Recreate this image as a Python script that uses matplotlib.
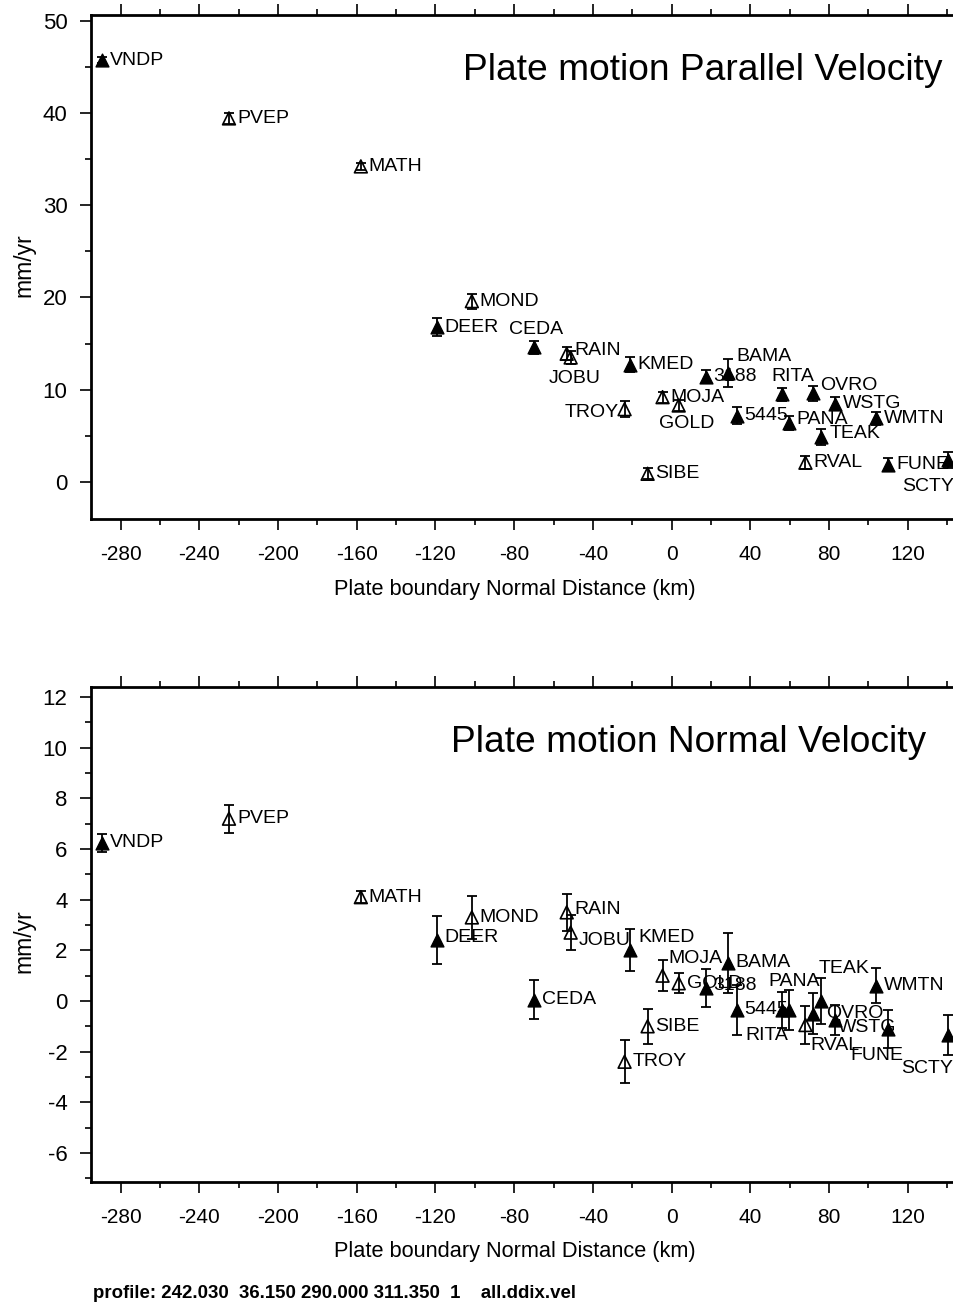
import matplotlib
matplotlib.use("Agg")
import matplotlib.pyplot as plt
from matplotlib.ticker import MultipleLocator

plt.rcParams['font.family'] = ['Liberation Sans', 'DejaVu Sans']
plt.rcParams['axes.unicode_minus'] = False

# ---------------- data ----------------
stations = ["VNDP", "PVEP", "MATH", "DEER", "MOND", "CEDA", "RAIN", "JOBU", "KMED",
            "TROY", "SIBE", "MOJA", "GOLD", "3188", "BAMA", "5445", "RITA", "PANA",
            "RVAL", "OVRO", "TEAK", "WSTG", "WMTN", "FUNE", "SCTY"]
distance = [-289.3, -224.9, -157.9, -119.3, -101.5, -70.0, -53.3, -51.3, -21.3,
            -23.9, -12.2, -4.6, 3.6, 17.3, 28.4, 33.0, 56.3, 59.4,
            68.0, 71.6, 76.1, 83.2, 103.6, 110.0, 140.6]
filled = [True, False, False, True, False, True, False, False, True,
          False, False, False, False, True, True, True, True, True,
          False, True, True, True, True, True, True]
v_par = [45.7, 39.4, 34.2, 16.8, 19.6, 14.6, 13.9, 13.5, 12.7,
         7.9, 0.9, 9.2, 8.3, 11.4, 11.8, 7.2, 9.5, 6.4,
         2.1, 9.6, 4.9, 8.5, 6.9, 1.9, 2.4]
v_par_err = [0.3, 0.6, 0.4, 1.0, 0.8, 0.7, 0.7, 0.7, 0.8,
             0.9, 0.6, 0.6, 0.6, 0.7, 1.5, 0.9, 0.7, 0.8,
             0.7, 0.8, 0.9, 0.7, 0.7, 0.7, 0.9]
v_norm = [6.24, 7.2, 4.1, 2.4, 3.3, 0.04, 3.5, 2.7, 2.0,
          -2.4, -1.0, 1.0, 0.7, 0.5, 1.5, -0.35, -0.35, -0.35,
          -0.95, -0.5, 0.0, -0.75, 0.6, -1.1, -1.35]
v_norm_err = [0.35, 0.55, 0.25, 0.95, 0.85, 0.77, 0.73, 0.7, 0.83,
              0.85, 0.7, 0.6, 0.4, 0.75, 1.2, 1.0, 0.7, 0.8,
              0.75, 0.8, 0.9, 0.6, 0.7, 0.75, 0.8]

x_ticks = [-280, -240, -200, -160, -120, -80, -40, 0, 40, 80, 120]
top_yticks = [0, 10, 20, 30, 40, 50]
bot_yticks = [-6, -4, -2, 0, 2, 4, 6, 8, 10, 12]

# label placement (pixel offsets dx, dy-down, alignment); default: right of marker
top_label_layout = {
    "CEDA": (2, -18, 'center'), "JOBU": (4, 21, 'center'), "BAMA": (9, -17, 'left'),
    "RITA": (10, -18, 'center'), "OVRO": (8, -8, 'left'), "GOLD": (8, 18, 'center'),
    "TROY": (-6, 3, 'right'), "SCTY": (-20, 27, 'center'), "RAIN": (8, -3, 'left'),
    "TEAK": (8, -3, 'left'), "PANA": (8, -3, 'left'),
}
bot_label_layout = {
    "KMED": (9, -13, 'left'), "MOJA": (6, -17, 'left'), "RITA": (-16, 26, 'center'),
    "PANA": (6, -28, 'center'), "TEAK": (-3, -32, 'left'), "OVRO": (14, 0, 'left'),
    "WSTG": (3, 8, 'left'), "RVAL": (5, 20, 'left'), "FUNE": (-11, 27, 'center'),
    "SCTY": (-21, 33, 'center'), "JOBU": (8, 8, 'left'), "DEER": (8, -3, 'left'),
    "RAIN": (8, -3, 'left'), "3188": (8, -3, 'left'),
}

W, H = 954, 1304
fig = plt.figure(figsize=(W / 100, H / 100), dpi=100)


def px_axes(left, top, right, bottom):
    return fig.add_axes([left / W, 1 - bottom / H, (right - left) / W, (bottom - top) / H])


def draw_panel(ax, vals, errs, layout, ylim, yticks, yminor):
    ax.errorbar(distance, vals, yerr=errs, fmt='none', ecolor='black',
                elinewidth=1.3, capsize=3.5, capthick=1.3, zorder=3)
    xf = [d for d, f in zip(distance, filled) if f]
    yf = [v for v, f in zip(vals, filled) if f]
    xo = [d for d, f in zip(distance, filled) if not f]
    yo = [v for v, f in zip(vals, filled) if not f]
    ax.scatter(xf, yf, marker='^', s=85, facecolors='black', edgecolors='black',
               linewidths=1.0, zorder=4)
    ax.scatter(xo, yo, marker='^', s=85, facecolors='none', edgecolors='black',
               linewidths=1.2, zorder=4)
    for name, d, v in zip(stations, distance, vals):
        dx, dy, ha = layout.get(name, (8, 0, 'left'))
        ax.annotate(name, (d, v), xytext=(dx * 0.72, -dy * 0.72),
                    textcoords='offset points', ha=ha, va='center',
                    fontsize=14, zorder=5)
    ax.set_xlim(-295, 145)
    ax.set_ylim(*ylim)
    ax.set_xticks(x_ticks)
    ax.set_xticklabels([str(t) for t in x_ticks])
    ax.xaxis.set_minor_locator(MultipleLocator(20))
    ax.set_yticks(yticks)
    ax.set_yticklabels([str(t) for t in yticks])
    ax.yaxis.set_minor_locator(MultipleLocator(yminor))
    ax.tick_params(which='both', direction='out', top=True, right=False,
                   labelsize=15, width=1.2)
    ax.tick_params(axis='y', labelsize=16)
    ax.tick_params(which='major', length=8, pad=9)
    ax.tick_params(which='minor', length=4)
    ax.tick_params(axis='x', pad=11)
    for s in ['left', 'top', 'bottom']:
        ax.spines[s].set_linewidth(2.0)
    ax.spines['right'].set_visible(False)


ax1 = px_axes(91, 15, 957, 519)
draw_panel(ax1, v_par, v_par_err, top_label_layout, (-4, 50.6), top_yticks, 5)
ax2 = px_axes(91, 687, 957, 1182)
draw_panel(ax2, v_norm, v_norm_err, bot_label_layout, (-7.15, 12.4), bot_yticks, 1)

fig.text(943 / W, 1 - 70 / H, "Plate motion Parallel Velocity", ha='right', va='center', fontsize=26.7)
fig.text(926 / W, 1 - 743 / H, "Plate motion Normal Velocity", ha='right', va='center', fontsize=26.7)

fig.text(515 / W, 1 - 590 / H, "Plate boundary Normal Distance (km)", ha='center', va='center', fontsize=15.7)
fig.text(515 / W, 1 - 1252 / H, "Plate boundary Normal Distance (km)", ha='center', va='center', fontsize=15.7)

fig.text(24 / W, 1 - 265 / H, "mm/yr", rotation=90, ha='center', va='center', fontsize=16.5)
fig.text(24 / W, 1 - 941 / H, "mm/yr", rotation=90, ha='center', va='center', fontsize=16.5)

fig.text(93 / W, 1 - 1293 / H,
         "profile: 242.030  36.150 290.000 311.350  1    all.ddix.vel",
         ha='left', va='center', fontsize=13.4, fontweight='bold')

fig.savefig("out.png", dpi=100)
